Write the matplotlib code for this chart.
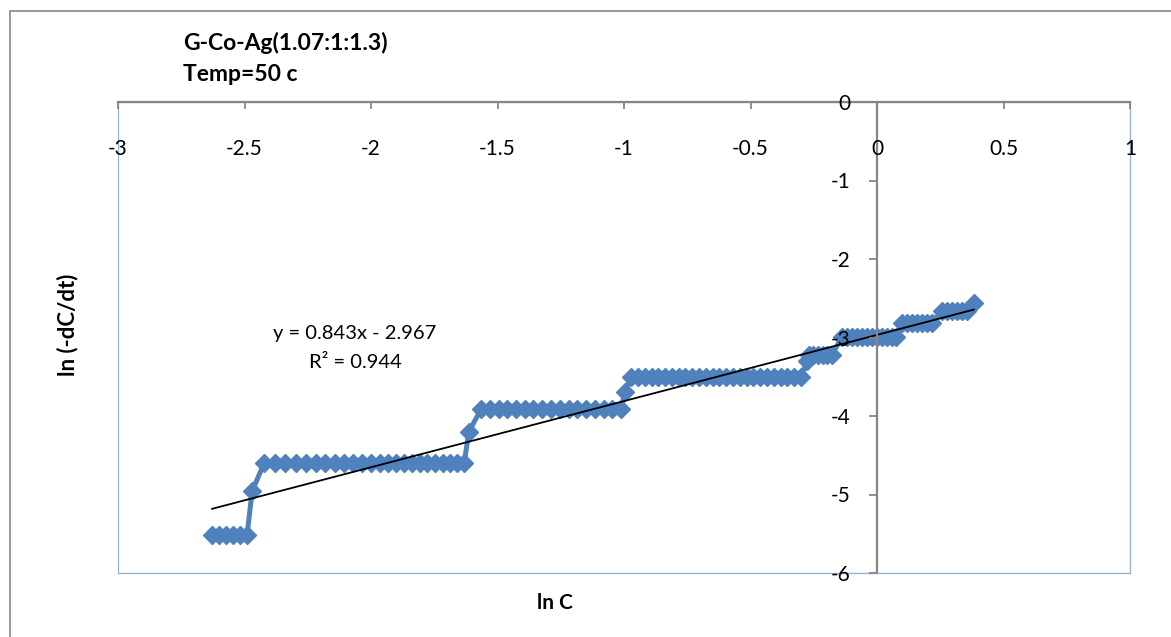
import matplotlib
matplotlib.use("Agg")
import matplotlib.pyplot as plt
from matplotlib.patches import Rectangle

plt.rcParams["font.family"] = ["Lato", "DejaVu Sans"]

# ln C (x) and ln(-dC/dt) (y)
ln_c = [-2.628, -2.601, -2.573, -2.546, -2.518, -2.490,
        -2.470,
        -2.423, -2.379, -2.338, -2.296, -2.257, -2.217, -2.180, -2.142,
        -2.107, -2.071, -2.036, -2.000, -1.966, -1.933, -1.901, -1.870,
        -1.838, -1.806, -1.777, -1.747, -1.717, -1.688, -1.660, -1.632,
        -1.613,
        -1.565, -1.531, -1.496, -1.461, -1.427, -1.392, -1.358, -1.323,
        -1.289, -1.254, -1.219, -1.185, -1.150, -1.116, -1.081, -1.046, -1.012,
        -0.996,
        -0.972, -0.945, -0.918, -0.891, -0.864, -0.838, -0.811, -0.784,
        -0.757, -0.730, -0.703, -0.676, -0.650, -0.623, -0.596, -0.569,
        -0.542, -0.515, -0.489, -0.462, -0.435, -0.408, -0.381, -0.354,
        -0.327, -0.300,
        -0.277,
        -0.269, -0.251, -0.233, -0.215, -0.197, -0.179,
        -0.138, -0.118, -0.099, -0.079, -0.059, -0.039, -0.020, 0.000,
        0.020, 0.040, 0.059, 0.075,
        0.099, 0.118, 0.138, 0.158, 0.178, 0.198, 0.217,
        0.257, 0.277, 0.297, 0.316, 0.336, 0.356,
        0.383]
ln_rate = ([-5.52] * 6 + [-4.96] + [-4.605] * 24 + [-4.20] + [-3.912] * 17
           + [-3.69] + [-3.507] * 26 + [-3.30] + [-3.219] * 6 + [-2.996] * 12
           + [-2.813] * 7 + [-2.659] * 6 + [-2.56])

slope, intercept = 0.843, -2.967
x_ticks = [-3, -2.5, -2, -1.5, -1, -0.5, 0, 0.5, 1]
x_tick_labels = ["-3", "-2.5", "-2", "-1.5", "-1", "-0.5", "0", "0.5", "1"]
y_ticks = [0, -1, -2, -3, -4, -5, -6]

W, H = 1171, 637
fig = plt.figure(figsize=(W / 100, H / 100), dpi=100)

def fx(px):
    return px / W

def fy(py):
    return 1 - py / H

# outer chart frame
fig.patches.append(Rectangle((fx(10), fy(700)), fx(1200) - fx(10), fy(11) - fy(700),
                             transform=fig.transFigure, fill=False, ec="#868686", lw=1.2))

ax = fig.add_axes([fx(118), fy(573), fx(1130) - fx(118), fy(102) - fy(573)])
ax.set_xlim(-3, 1)
ax.set_ylim(-6, 0)

ax.plot(ln_c, ln_rate, color="#4F81BD", lw=3.6, marker="D", ms=9,
        mec="#4F81BD", mfc="#4F81BD", zorder=2)
x0, x1 = min(ln_c), max(ln_c)
ax.plot([x0, x1], [slope * x0 + intercept, slope * x1 + intercept],
        color="black", lw=1.3, zorder=2.2)

# plot-area border
for s in ("bottom", "right"):
    ax.spines[s].set_color("#95B3D7")
    ax.spines[s].set_linewidth(0.9)
ax.spines["top"].set_color("#868686")
ax.spines["top"].set_linewidth(1.6)
ax.spines["left"].set_position(("data", 0))
ax.spines["left"].set_color("#868686")
ax.spines["left"].set_linewidth(1.6)
ax.add_patch(Rectangle((0, 0), 1, 1, transform=ax.transAxes, fill=False,
                       ec="#95B3D7", lw=0.9, zorder=1))

ax.xaxis.tick_top()
ax.set_xticks(x_ticks)
ax.set_xticklabels(x_tick_labels)
ax.tick_params(axis="x", top=True, bottom=False, labeltop=True, labelbottom=False,
               direction="in", length=5, width=1.3, color="#868686",
               pad=-41, labelsize=15)
ax.set_yticks(y_ticks)
ax.set_yticklabels([str(v) for v in y_ticks])
ax.tick_params(axis="y", direction="out", length=6, width=1.3, color="#868686",
               pad=13, labelsize=15)
ax.yaxis.set_zorder(3)
ax.xaxis.set_zorder(3)

ax.text(-2.063, -3.13, "y = 0.843x - 2.967\nR² = 0.944", ha="center", va="center",
        fontsize=14.5, linespacing=1.85)

fig.text(fx(183), fy(50), "G-Co-Ag(1.07:1:1.3)", fontsize=16.5, fontweight="bold",
         ha="left", va="baseline")
fig.text(fx(183), fy(81), "Temp=50 c", fontsize=16.5, fontweight="bold",
         ha="left", va="baseline")
fig.text(fx(68), fy(325), "ln (-dC/dt)", fontsize=16, fontweight="bold",
         rotation=90, ha="center", va="center")
fig.text(fx(555), fy(603), "ln C", fontsize=15, fontweight="bold",
         ha="center", va="center")

fig.savefig("out.png", dpi=100)
